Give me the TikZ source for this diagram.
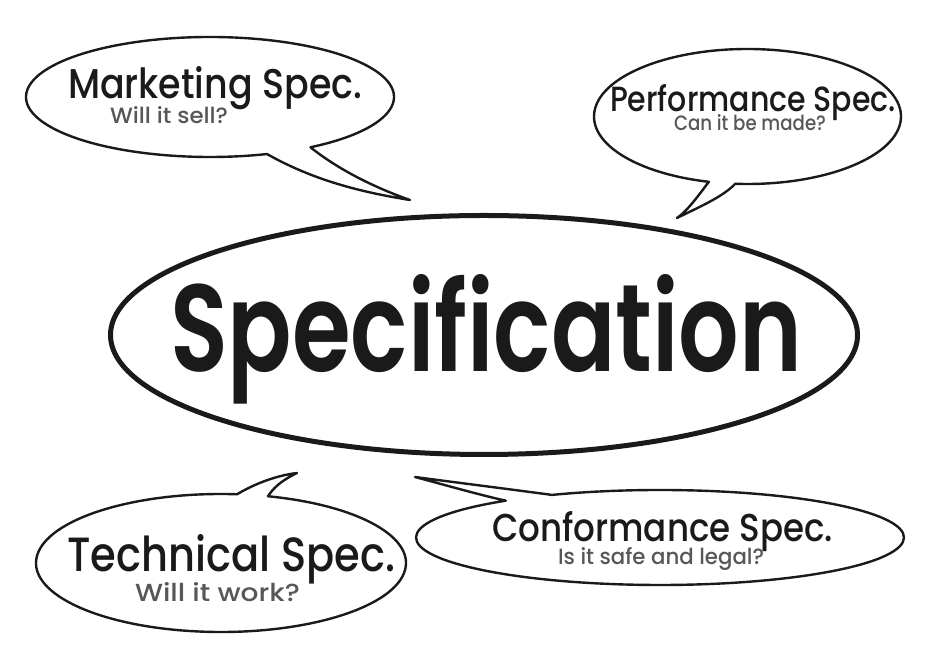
\documentclass[tikz,border=0pt]{standalone}
\usepackage{fontspec}
\usepackage{graphicx}
\setmainfont{Poppins}
\newfontfamily\titlefont{Poppins Medium}
\newfontfamily\bigfont{Poppins SemiBold}
\definecolor{ink}{HTML}{1A1A1A}
\definecolor{subgray}{HTML}{575757}
\tikzset{
  bubble/.style={draw=ink, line width=2.4pt, fill=white, line join=round},
  mainoval/.style={draw=ink, line width=5pt},
  txt/.style={anchor=base west, inner sep=0pt, outer sep=0pt},
  titletxt/.style={txt, text=ink, font=\titlefont},
  subtxt/.style={txt, text=subgray, font=\titlefont},
}
\newcommand\fitbox[3]{\resizebox{#1pt}{#2pt}{#3}}
\begin{document}
\begin{tikzpicture}[x=1pt,y=1pt]
\useasboundingbox (0,0) rectangle (950,671);
\fill[white] (0,0) rectangle (950,671);

% central oval
\draw[mainoval] (484,336) ellipse [x radius=373.5pt, y radius=119.5pt];
\node[txt, text=ink, font=\bigfont] (spec) at (170,299) {\fitbox{632}{97}{Specification}};

% Marketing bubble
\path (210,574) ++(-56.9:184pt and 60pt) coordinate (mkR);
\coordinate (mkT) at (410,471);
\draw[bubble] (mkR) arc[start angle=-56.9, end angle=288.05, x radius=184pt, y radius=60pt]
  .. controls (313,491) and (360,479) .. (mkT)
  .. controls (370,485) and (335,504) .. (mkR) -- cycle;
\node[titletxt] (mk) at (68,572) {\fitbox{294}{32}{Marketing Spec.}};
\node[subtxt] (mks) at (110,547) {\fitbox{118}{17}{Will it sell?}};

% Performance bubble
\path (747.5,554.5) ++(265.4:153.5pt and 67.5pt) coordinate (pfR);
\coordinate (pfT) at (677,453);
\draw[bubble] (pfR) arc[start angle=265.4, end angle=615.4, x radius=153.5pt, y radius=67.5pt]
  .. controls (696,472) and (686,459) .. (pfT)
  .. controls (697,463) and (723,474) .. (pfR) -- cycle;
\node[titletxt] (pf) at (610,559) {\fitbox{286}{27}{Performance Spec.}};
\node[subtxt] (pfs) at (674,540) {\fitbox{152}{16}{Can it be made?}};

% Technical bubble
\path (221,108) ++(85:185pt and 69pt) coordinate (tcL);
\coordinate (tcT) at (297,198);
\draw[bubble] (tcL) arc[start angle=85, end angle=435.3, x radius=185pt, y radius=69pt]
  .. controls (276,187) and (287,193) .. (tcT)
  .. controls (272,195) and (249,184) .. (tcL) -- cycle;
\node[titletxt] (tc) at (67,99) {\fitbox{328}{37}{Technical Spec.}};
\node[subtxt] (tcs) at (135,69) {\fitbox{165}{19}{Will it work?}};

% Conformance bubble
\path (660,133.5) ++(129.2:244pt and 47.5pt) coordinate (cfL);
\coordinate (cfT) at (415,194);
\draw[bubble] (cfL) arc[start angle=129.2, end angle=476.3, x radius=244pt, y radius=47.5pt]
  .. controls (508,182) and (460,188) .. (cfT)
  .. controls (445,186) and (480,176) .. (cfL) -- cycle;
\node[titletxt] (cf) at (492,129) {\fitbox{341}{30}{Conformance Spec.}};
\node[subtxt] (cfs) at (558,106) {\fitbox{206}{17}{Is it safe and legal?}};
\end{tikzpicture}
\end{document}
